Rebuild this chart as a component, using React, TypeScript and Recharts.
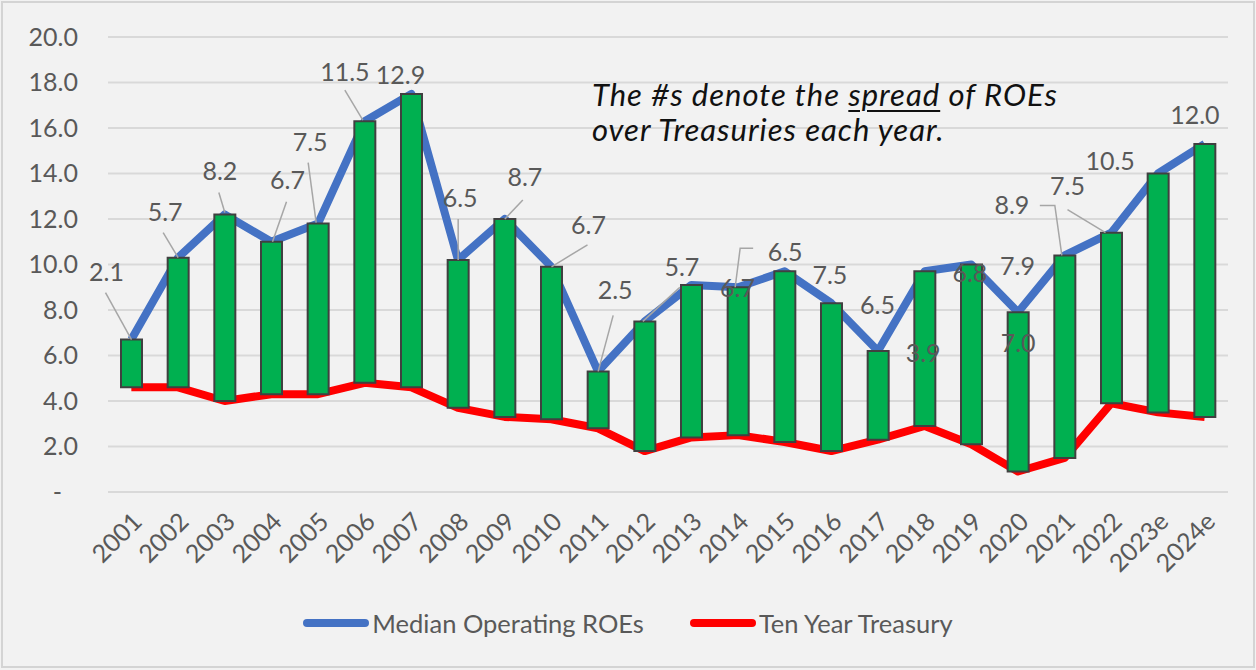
import { Bar, CartesianGrid, ComposedChart, LabelList, Legend, Line, XAxis, YAxis } from "recharts";

const YEARS = [
  "2001", "2002", "2003", "2004", "2005", "2006", "2007", "2008", "2009", "2010", "2011", "2012",
  "2013", "2014", "2015", "2016", "2017", "2018", "2019", "2020", "2021", "2022", "2023e", "2024e",
];

const MEDIAN_ROE = [
  6.7, 10.3, 12.2, 11.0, 11.8, 16.3, 17.5, 10.2, 12.0, 9.9, 5.3, 7.5,
  9.1, 9.0, 9.7, 8.3, 6.2, 9.7, 10.0, 7.9, 10.4, 11.4, 14.0, 15.3,
];

const TEN_YEAR_TREASURY = [
  4.6, 4.6, 4.0, 4.3, 4.3, 4.8, 4.6, 3.7, 3.3, 3.2, 2.8, 1.8,
  2.4, 2.5, 2.2, 1.8, 2.3, 2.9, 2.1, 0.9, 1.5, 3.9, 3.5, 3.3,
];

const SPREAD_LABELS = [
  "2.1", "5.7", "8.2", "6.7", "7.5", "11.5", "12.9", "6.5", "8.7", "6.7", "2.5", "5.7",
  "6.7", "6.5", "7.5", "6.5", "3.9", "6.8", "7.9", "7.0", "8.9", "7.5", "10.5", "12.0",
];

const Y_TICKS = [0, 2, 4, 6, 8, 10, 12, 14, 16, 18, 20];

// where each spread label was dragged to, relative to the top of its bar
type LabelPlacement = { dx: number; dy: number; leader?: Array<[number, number]> };
const LABEL_PLACEMENT: LabelPlacement[] = [
  { dx: -25, dy: -67, leader: [[-26, -47], [0, 0]] },
  { dx: -13, dy: -45, leader: [[-15, -25], [0, 0]] },
  { dx: -5, dy: -43, leader: [[-6, -22], [0, -2]] },
  { dx: 16, dy: -62, leader: [[15, -40], [1, 0]] },
  { dx: -8, dy: -81, leader: [[-10, -61], [-2, -1]] },
  { dx: -20, dy: -49, leader: [[-20, -31], [-2, -1]] },
  { dx: -11, dy: -19 },
  { dx: 2, dy: -62, leader: [[0, -41], [0, 0]] },
  { dx: 20, dy: -42, leader: [[18, -19], [0, 0]] },
  { dx: 37, dy: -42, leader: [[36, -22], [0, 0]] },
  { dx: 17, dy: -81, leader: [[15, -56], [0, 0]] },
  { dx: 37, dy: -54, leader: [[35, -34], [-2, 0]] },
  { dx: 46, dy: 3 },
  { dx: 47, dy: -35, leader: [[15, -39], [2, -39], [-3, 0]] },
  { dx: 45, dy: 4 },
  { dx: 46, dy: 2 },
  { dx: 45, dy: 2 },
  { dx: 45, dy: 2 },
  { dx: 46, dy: 2 },
  { dx: 0, dy: 31 },
  { dx: -53, dy: -50, leader: [[-25, -50], [-10, -50], [-3, 0]] },
  { dx: -44, dy: -46, leader: [[-44, -23], [-6, 0]] },
  { dx: -48, dy: -12 },
  { dx: -10, dy: -29 },
];

const data = YEARS.map((year, i) => ({
  year,
  roe: MEDIAN_ROE[i],
  treasury: TEN_YEAR_TREASURY[i],
  range: [TEN_YEAR_TREASURY[i], MEDIAN_ROE[i]],
  spread: SPREAD_LABELS[i],
}));

const FONT = "Lato, 'Open Sans', sans-serif";
const TEXT_GREY = "#595959";

const YTick = (props: any) => {
  const { x, y, payload } = props;
  const isZero = payload.value === 0;
  return (
    <text
      x={isZero ? x - 16 : x}
      y={y}
      dy="0.35em"
      textAnchor="end"
      fill={TEXT_GREY}
      fontSize={25}
      fontFamily={FONT}
    >
      {isZero ? "-" : payload.value.toFixed(1)}
    </text>
  );
};

const XTick = (props: any) => {
  const { x, y, payload } = props;
  const ax = x + 6;
  const ay = y + 17;
  return (
    <text
      x={ax}
      y={ay}
      dy="0.35em"
      textAnchor="end"
      transform={`rotate(-45, ${ax}, ${ay})`}
      fill={TEXT_GREY}
      fontSize={25}
      fontFamily={FONT}
    >
      {payload.value}
    </text>
  );
};

const SpreadLabel = (props: any) => {
  const { x, y, width, height, index, value } = props;
  const place = LABEL_PLACEMENT[index];
  if (!place) return null;
  const cx = x + width / 2;
  const top = Math.min(y, y + height);
  const points = place.leader?.map(([px, py]) => `${cx + px},${top + py}`).join(" ");
  return (
    <g>
      {points && <polyline points={points} fill="none" stroke="#a6a6a6" strokeWidth={1.5} />}
      <text
        x={cx + place.dx}
        y={top + place.dy}
        dy="0.35em"
        textAnchor="middle"
        fill={TEXT_GREY}
        fontSize={25}
        fontFamily={FONT}
      >
        {value}
      </text>
    </g>
  );
};

const LegendContent = () => (
  <div
    style={{
      display: "flex",
      justifyContent: "center",
      alignItems: "center",
      gap: 46,
      fontFamily: FONT,
      fontSize: 25.5,
      color: TEXT_GREY,
    }}
  >
    {[
      { name: "Median Operating ROEs", color: "#4472C4" },
      { name: "Ten Year Treasury", color: "#FF0000" },
    ].map((item) => (
      <div key={item.name} style={{ display: "flex", alignItems: "center" }}>
        <span
          style={{ display: "inline-block", width: 66, height: 8, borderRadius: 4, background: item.color, marginRight: 3 }}
        />
        <span>{item.name}</span>
      </div>
    ))}
  </div>
);

export default function App() {
  return (
    <div style={{ position: "absolute", left: 0, top: 0, width: 1256, height: 670, background: "#f2f2f2" }}>
      <div
        style={{
          position: "absolute",
          left: 1,
          top: 1,
          width: 1250,
          height: 663,
          border: "2px solid #d4d4d4",
        }}
      />
      <ComposedChart
        width={1256}
        height={670}
        data={data}
        margin={{ top: 37, right: 28, left: 0, bottom: 58 }}
        barCategoryGap={0}
      >
        <CartesianGrid stroke="#d9d9d9" strokeWidth={2} vertical={false} />
        <XAxis
          dataKey="year"
          axisLine={false}
          tickLine={false}
          interval={0}
          height={90}
          tick={<XTick />}
        />
        <YAxis
          domain={[0, 20]}
          ticks={Y_TICKS}
          axisLine={false}
          tickLine={false}
          width={108}
          tickMargin={24}
          tick={<YTick />}
        />
        <Legend
          content={<LegendContent />}
          wrapperStyle={{ position: "absolute", left: 0, top: 608, width: 1256 }}
        />
        <Line
          dataKey="treasury"
          stroke="#FF0000"
          strokeWidth={8}
          dot={false}
          strokeLinejoin="round"
          isAnimationActive={false}
        />
        <Line
          dataKey="roe"
          stroke="#4472C4"
          strokeWidth={8}
          dot={false}
          strokeLinejoin="round"
          isAnimationActive={false}
        />
        <Bar
          dataKey="range"
          barSize={21}
          fill="#00B050"
          stroke="#404040"
          strokeWidth={2}
          zIndex={450}
          isAnimationActive={false}
        >
          <LabelList dataKey="spread" content={<SpreadLabel />} />
        </Bar>
      </ComposedChart>
      <div
        style={{
          position: "absolute",
          left: 592,
          top: 77,
          fontFamily: FONT,
          fontStyle: "italic",
          fontSize: 31,
          letterSpacing: 1,
          lineHeight: "35px",
          color: "#111111",
          whiteSpace: "nowrap",
        }}
      >
        <div>
          The #s denote the{" "}
          <span style={{ textDecoration: "underline", textDecorationThickness: 2, textUnderlineOffset: 4 }}>spread</span>{" "}
          of ROEs
        </div>
        <div>over Treasuries each year.</div>
      </div>
    </div>
  );
}
